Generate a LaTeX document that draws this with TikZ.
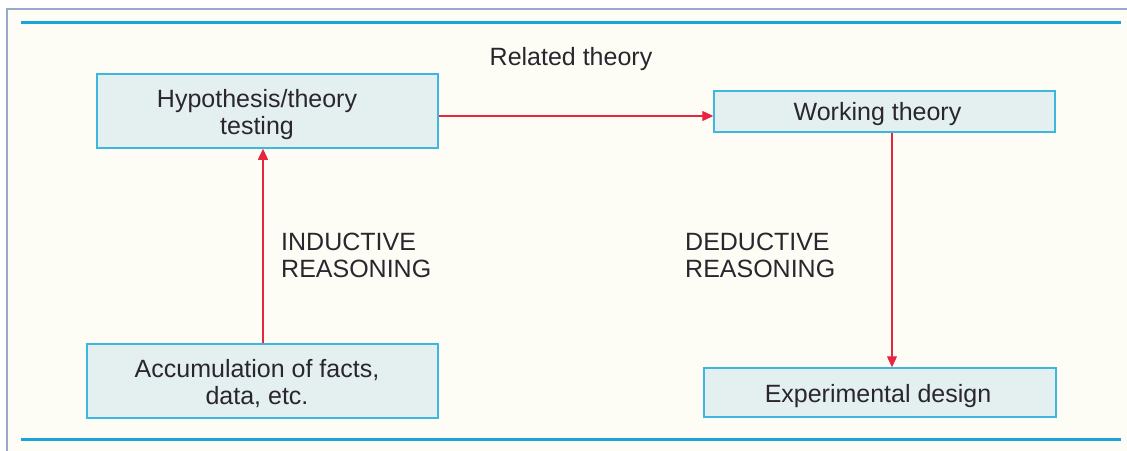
\documentclass[tikz,border=0pt]{standalone}
\usepackage{fontspec}
\setmainfont{Liberation Sans}
\usetikzlibrary{arrows.meta}
\definecolor{paper}{HTML}{FEFDF5}
\definecolor{framec}{HTML}{98A8CF}
\definecolor{rulec}{HTML}{1AA5D6}
\definecolor{boxfill}{HTML}{E4EFF0}
\definecolor{boxline}{HTML}{3DB7DF}
\definecolor{arrowc}{HTML}{E9243F}
\definecolor{textc}{HTML}{2A2630}
\begin{document}
\begin{tikzpicture}[x=1pt,y=-1pt,
  every node/.style={font=\fontsize{25}{27}\selectfont, text=textc},
  stagebox/.style={draw=boxline, line width=1.5pt, fill=boxfill, inner sep=0pt},
  stagetext/.style={align=center, inner sep=0pt},
  flow/.style={draw=arrowc, line width=1.3pt, -{Triangle[length=11pt,width=10pt]}},
  rulebar/.style={draw=rulec, line width=3pt},
  label/.style={align=left, anchor=north west, inner sep=0pt}]
  \useasboundingbox (0,0) rectangle (1127,450);
  \begin{scope}
    \clip (0,0) rectangle (1127,450);
    \fill[white] (0,0) rectangle (1127,450);
    \draw[framec, line width=1.2pt, fill=paper] (7,9) rectangle (1140,470);
  \end{scope}
  % horizontal rules
  \coordinate (rt1) at (21,22);  \coordinate (rt2) at (1121,22);
  \coordinate (rb1) at (21,439); \coordinate (rb2) at (1121,439);
  \draw[rulebar] (rt1) -- (rt2);
  \draw[rulebar] (rb1) -- (rb2);
  % stage boxes
  \node[stagebox, minimum width=341pt, minimum height=74pt] (hyp) at (267.5,111) {};
  \node[stagebox, minimum width=341pt, minimum height=41pt] (work) at (884.5,111.5) {};
  \node[stagebox, minimum width=351pt, minimum height=74pt] (acc) at (262.5,381) {};
  \node[stagebox, minimum width=352pt, minimum height=49pt] (exp) at (880,392.5) {};
  % stage texts
  \node[stagetext] (hypt) at (257,115) {Hypothesis/theory\\testing};
  \node[stagetext] (workt) at (877.5,114) {Working theory};
  \node[stagetext] (acct) at (257,384) {Accumulation of facts,\\data, etc.};
  \node[stagetext] (expt) at (878,396) {Experimental design};
  % labels
  \node (rel) at (571,59) {Related theory};
  \node[label] (ind) at (281,233) {INDUCTIVE\\REASONING};
  \node[label] (ded) at (685,233) {DEDUCTIVE\\REASONING};
  % connectors
  \draw[flow] (acc.north -| 263,0) -- (hyp.south -| 263,0);
  \draw[flow] (hyp.east |- 0,116) -- (work.west |- 0,116);
  \draw[flow] (work.south -| 892,0) -- (exp.north -| 892,0);
\end{tikzpicture}
\end{document}
